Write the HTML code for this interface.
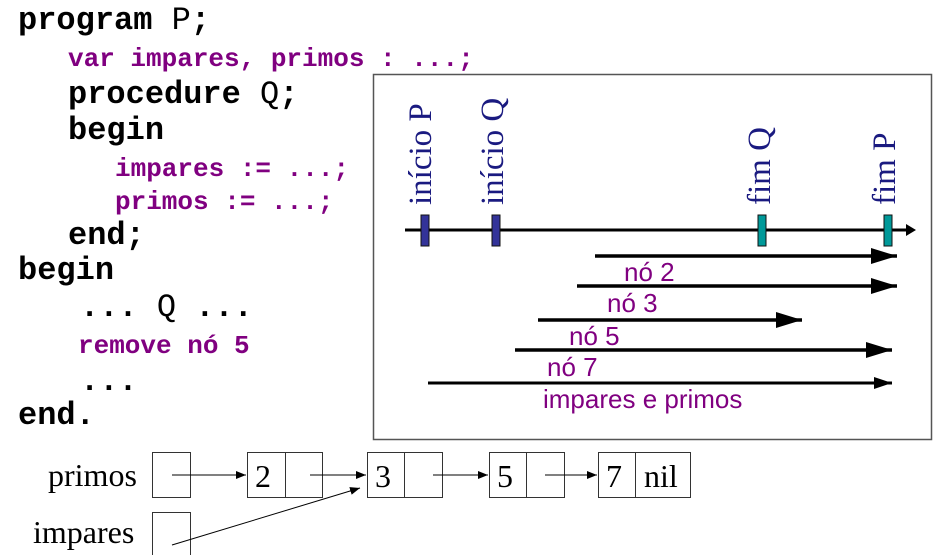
<!DOCTYPE html>
<html><head><meta charset="utf-8"><style>
body{margin:0;width:936px;height:555px;background:#fff;overflow:hidden;position:relative}
.c{position:absolute;font-family:"Liberation Mono",monospace;font-weight:bold;white-space:pre;line-height:1}
.k{font-size:32px;color:#000}
.p{font-size:26px;color:#800080}
.n{font-weight:normal}
</style></head><body>
<div class="c k" style="left:18px;top:5px">program <span class="n">P</span>;</div>
<div class="c p" style="left:68px;top:46px">var impares, primos : ...;</div>
<div class="c k" style="left:68px;top:79px">procedure <span class="n">Q</span>;</div>
<div class="c k" style="left:68px;top:115px">begin</div>
<div class="c p" style="left:115px;top:156px">impares := ...;</div>
<div class="c p" style="left:115px;top:189px">primos := ...;</div>
<div class="c k" style="left:68px;top:220px">end;</div>
<div class="c k" style="left:18px;top:255px">begin</div>
<div class="c k" style="left:80px;top:292px">... <span class="n">Q</span> ...</div>
<div class="c p" style="left:78px;top:333px">remove nó 5</div>
<div class="c k" style="left:80px;top:366px">...</div>
<div class="c k" style="left:18px;top:400px">end.</div>
<svg width="936" height="555" style="position:absolute;left:0;top:0" font-family="Liberation Serif, serif">
<defs><marker id="a" markerWidth="10" markerHeight="8" refX="10" refY="4" orient="auto" markerUnits="userSpaceOnUse"><path d="M0,0L10,4L0,8z"/></marker>
<marker id="b" markerWidth="26" markerHeight="16" refX="26" refY="8" orient="auto" markerUnits="userSpaceOnUse"><path d="M0,0L26,8L0,16z"/></marker></defs>
<rect x="373.5" y="74.5" width="558" height="365" fill="none" stroke="#555" stroke-width="1.5"/>
<g fill="#1a1a80" font-size="33">
<text transform="translate(431,205) rotate(-90)">início P</text>
<text transform="translate(503,205) rotate(-90)">início Q</text>
<text transform="translate(770,205) rotate(-90)">fim Q</text>
<text transform="translate(895,205) rotate(-90)">fim P</text>
</g>
<line x1="405" y1="230" x2="908" y2="230" stroke="#000" stroke-width="3"/>
<path d="M906,224L916,230L906,236z"/>
<rect x="421" y="215" width="8" height="31" fill="#333399" stroke="#111"/>
<rect x="492" y="215" width="8" height="31" fill="#333399" stroke="#111"/>
<rect x="758" y="215" width="8" height="31" fill="#009999" stroke="#111"/>
<rect x="884" y="215" width="8" height="31" fill="#009999" stroke="#111"/>
<g stroke="#000" stroke-width="3.5">
<line x1="595" y1="256" x2="897" y2="256" marker-end="url(#b)"/>
<line x1="577" y1="286" x2="897" y2="286" marker-end="url(#b)"/>
<line x1="538" y1="320" x2="802" y2="320" marker-end="url(#b)"/>
<line x1="515" y1="350" x2="892" y2="350" marker-end="url(#b)"/>
</g>
<line x1="428" y1="383" x2="892" y2="383" stroke="#000" stroke-width="3"/>
<path d="M874,377L892,383L874,389z"/>
<g fill="#800080" font-family="Liberation Sans, sans-serif" font-size="26">
<text x="624" y="281">nó 2</text>
<text x="607" y="312">nó 3</text>
<text x="569" y="345">nó 5</text>
<text x="547" y="376">nó 7</text>
<text x="543" y="408">impares e primos</text>
</g>
<g fill="none" stroke="#333" stroke-width="1">
<rect x="152.5" y="452.5" width="38" height="45"/>
<rect x="247.5" y="452.5" width="75" height="45"/><line x1="285.5" y1="452" x2="285.5" y2="498"/>
<rect x="367.5" y="452.5" width="75" height="45"/><line x1="404.5" y1="452" x2="404.5" y2="498"/>
<rect x="489.5" y="452.5" width="75" height="45"/><line x1="526.5" y1="452" x2="526.5" y2="498"/>
<rect x="598.5" y="452.5" width="92" height="45"/><line x1="635.5" y1="452" x2="635.5" y2="498"/>
<rect x="152.5" y="512.5" width="38" height="50"/>
</g>
<g stroke="#000" stroke-width="1">
<line x1="172" y1="475" x2="246" y2="475" marker-end="url(#a)"/>
<line x1="310" y1="475" x2="366" y2="475" marker-end="url(#a)"/>
<line x1="433" y1="475" x2="488" y2="475" marker-end="url(#a)"/>
<line x1="545" y1="475" x2="597" y2="475" marker-end="url(#a)"/>
<line x1="172" y1="545" x2="360" y2="488" marker-end="url(#a)"/>
</g>
<g font-size="32" fill="#000">
<text x="48" y="486">primos</text>
<text x="33" y="543">impares</text>
<text x="255" y="487">2</text>
<text x="375" y="487">3</text>
<text x="497" y="487">5</text>
<text x="606" y="487">7</text>
<text x="644" y="487">nil</text>
</g>
</svg>
</body></html>
